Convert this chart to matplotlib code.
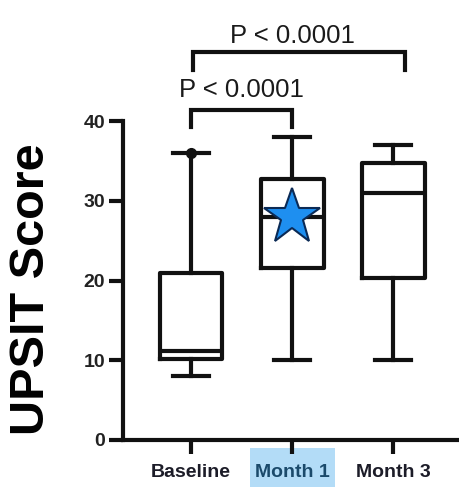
import matplotlib
matplotlib.use("Agg")
import matplotlib.pyplot as plt
from matplotlib.patches import Rectangle

plt.rcParams['font.family'] = ['Liberation Sans', 'DejaVu Sans']

# Box summary per visit (UPSIT score)
groups = ["Baseline", "Month 1", "Month 3"]
whisker_low = [8.0, 10.0, 10.0]
q1 = [10.2, 21.6, 20.3]
median = [11.2, 28.0, 31.0]
q3 = [20.9, 32.7, 34.7]
whisker_high = [36.0, 38.0, 37.0]
outliers = [[36.0], [], []]

# Highlighted group (star at its median)
highlight = 1

# Pairwise comparisons: (group a, group b, label)
comparisons = [(0, 1, "P < 0.0001"), (0, 2, "P < 0.0001")]

yticks = [0, 10, 20, 30, 40]

LW = 3.0
INK = "#111111"

fig = plt.figure(figsize=(4.59, 4.87), dpi=100)
ax = fig.add_axes([123 / 459, 47 / 487, 336 / 459, 319 / 487])

stats = []
for i, g in enumerate(groups):
    stats.append(dict(label=g, whislo=whisker_low[i], q1=q1[i], med=median[i],
                      q3=q3[i], whishi=whisker_high[i], fliers=[]))

pos = list(range(len(groups)))
ax.bxp(stats, positions=pos, widths=0.62, showfliers=False, patch_artist=False,
       boxprops=dict(color=INK, linewidth=LW),
       medianprops=dict(color=INK, linewidth=LW),
       whiskerprops=dict(color=INK, linewidth=LW),
       capprops=dict(color=INK, linewidth=LW),
       capwidths=0.36)

for i, pts in enumerate(outliers):
    if pts:
        ax.plot([pos[i]] * len(pts), pts, 'o', color=INK, markersize=7, zorder=5)

ax.plot(pos[highlight], median[highlight], marker='*', markersize=42,
        markerfacecolor="#1E8FF0", markeredgecolor="#0B2A55",
        markeredgewidth=1.5, linestyle='none', zorder=6)

# Significance brackets above the plot area
bracket_specs = [
    dict(x0=0.0, x1=1.0, top=41.4, leg=39.25, text_y=43.0),
    dict(x0=0.02, x1=2.12, top=48.65, leg=46.4, text_y=49.8),
]
for (a, b, txt), spec in zip(comparisons, bracket_specs):
    ax.plot([spec['x0'], spec['x0'], spec['x1'], spec['x1']],
            [spec['leg'], spec['top'], spec['top'], spec['leg']],
            color=INK, linewidth=LW, clip_on=False, solid_joinstyle='miter')
    ax.text((pos[a] + pos[b]) / 2, spec['text_y'], txt, ha='center', va='baseline',
            fontsize=18.5, color="#1a1a1a", clip_on=False)

ax.set_xlim(-0.673, 2.65)
ax.set_ylim(0, 40)
ax.set_yticks(yticks)
ax.set_yticklabels([str(v) for v in yticks])
ax.set_xticks(pos)
ax.set_xticklabels(groups)

for s in ["top", "right"]:
    ax.spines[s].set_visible(False)
for s in ["left", "bottom"]:
    ax.spines[s].set_linewidth(LW)
    ax.spines[s].set_color(INK)

ax.tick_params(axis='y', length=10, width=LW, color=INK, pad=3, labelsize=14)
ax.tick_params(axis='x', length=10, width=LW, color=INK, pad=7, labelsize=14)
for lab in ax.get_yticklabels():
    lab.set_fontweight('bold')
    lab.set_color("#222222")
for i, lab in enumerate(ax.get_xticklabels()):
    lab.set_fontweight('bold')
    lab.set_color("#1b4a6b" if i == highlight else "#1c1c28")

ax.set_ylabel("UPSIT Score", fontsize=35, fontweight='bold', color="#000000")
ax.yaxis.set_label_coords(-0.205, 0.473)

# Light blue backdrop behind the highlighted tick label
fig.canvas.draw()
lab = ax.get_xticklabels()[highlight]
bb = lab.get_window_extent()
W, H = fig.bbox.width, fig.bbox.height
x0 = bb.x0 - 5
x1 = bb.x1 + 5
y0 = 0
y1 = bb.y1 + 16
fig.patches.append(Rectangle((x0 / W, y0 / H), (x1 - x0) / W, (y1 - y0) / H,
                             transform=fig.transFigure, facecolor="#B3DCF7",
                             edgecolor='none', zorder=-1))

fig.savefig("out.png", dpi=100, facecolor="white")
